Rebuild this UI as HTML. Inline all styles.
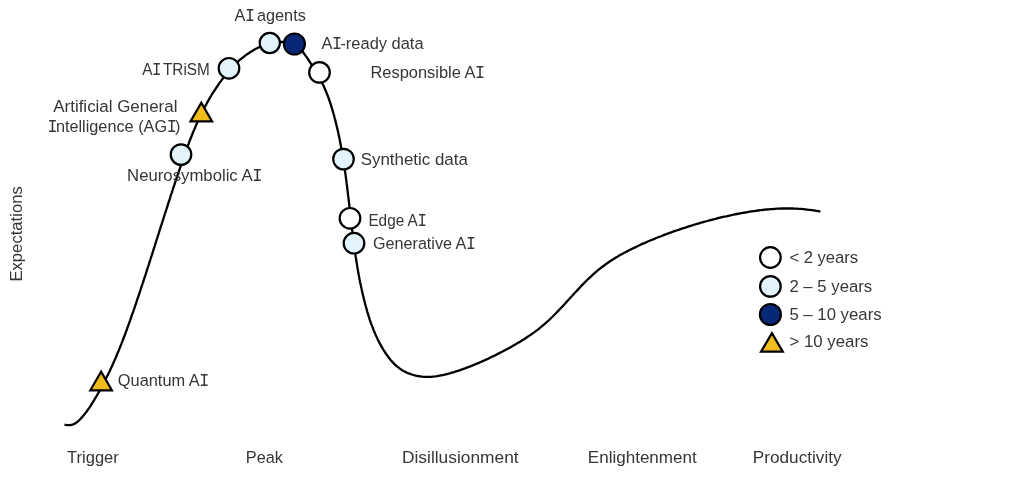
<!DOCTYPE html>
<html><head><meta charset="utf-8">
<style>
html,body{margin:0;padding:0;background:#fff;}
body{width:1024px;height:478px;overflow:hidden;}
svg{display:block;will-change:transform;}
text{font-family:"Liberation Sans",sans-serif;font-size:17.2px;fill:#363636;}
</style></head>
<body>
<svg width="1024" height="478" viewBox="0 0 1024 478">
<path id="curve" fill="none" stroke="#000" stroke-width="2.3" stroke-linejoin="round" d="M64.5,424.6 L66.9,425.1 L69.1,425.2 L71.2,425.0 L73.2,424.4 L75.0,423.5 L76.7,422.3 L78.4,421.0 L79.9,419.5 L81.4,417.9 L82.9,416.3 L84.3,414.6 L85.6,412.9 L86.9,411.2 L88.1,409.4 L89.4,407.6 L90.6,405.8 L91.7,403.9 L92.9,402.1 L94.0,400.3 L95.1,398.4 L96.3,396.5 L97.3,394.7 L98.4,392.8 L99.5,390.9 L100.5,389.0 L101.6,387.1 L102.6,385.2 L103.6,383.3 L104.6,381.4 L105.6,379.5 L106.5,377.6 L107.5,375.6 L108.4,373.7 L109.4,371.7 L110.3,369.8 L111.2,367.8 L112.1,365.9 L113.0,363.9 L113.8,362.0 L114.7,360.0 L115.6,358.0 L116.4,356.0 L117.2,354.0 L118.1,352.1 L118.9,350.1 L119.7,348.1 L120.5,346.1 L121.3,344.1 L122.1,342.1 L122.9,340.0 L123.6,338.0 L124.4,336.0 L125.2,334.0 L125.9,332.0 L126.7,330.0 L127.4,327.9 L128.1,325.9 L128.9,323.9 L129.6,321.8 L130.3,319.8 L131.0,317.8 L131.7,315.7 L132.4,313.7 L133.2,311.7 L133.9,309.6 L134.6,307.6 L135.3,305.5 L136.0,303.5 L136.6,301.5 L137.3,299.4 L138.0,297.4 L138.7,295.3 L139.4,293.3 L140.1,291.2 L140.8,289.2 L141.4,287.1 L142.1,285.1 L142.8,283.0 L143.5,281.0 L144.1,278.9 L144.8,276.9 L145.5,274.8 L146.1,272.8 L146.8,270.7 L147.4,268.7 L148.1,266.6 L148.8,264.6 L149.4,262.5 L150.1,260.5 L150.7,258.4 L151.4,256.4 L152.1,254.3 L152.7,252.3 L153.4,250.2 L154.0,248.1 L154.7,246.1 L155.3,244.0 L156.0,242.0 L156.6,239.9 L157.3,237.9 L157.9,235.8 L158.6,233.8 L159.2,231.7 L159.9,229.6 L160.5,227.6 L161.2,225.5 L161.9,223.5 L162.5,221.4 L163.2,219.4 L163.8,217.3 L164.5,215.2 L165.1,213.2 L165.8,211.1 L166.5,209.1 L167.1,207.0 L167.8,205.0 L168.4,202.9 L169.1,200.8 L169.8,198.8 L170.4,196.7 L171.1,194.7 L171.8,192.6 L172.4,190.6 L173.1,188.5 L173.8,186.5 L174.5,184.4 L175.1,182.4 L175.8,180.3 L176.5,178.3 L177.2,176.2 L177.9,174.2 L178.6,172.1 L179.3,170.1 L180.0,168.0 L180.7,166.0 L181.4,163.9 L182.1,161.9 L182.8,159.8 L183.5,157.8 L184.2,155.7 L184.9,153.7 L185.7,151.7 L186.4,149.6 L187.1,147.6 L187.9,145.6 L188.7,143.6 L189.4,141.5 L190.2,139.5 L191.0,137.5 L191.8,135.5 L192.6,133.5 L193.4,131.5 L194.3,129.5 L195.1,127.6 L195.9,125.6 L196.8,123.6 L197.7,121.6 L198.6,119.7 L199.5,117.7 L200.4,115.8 L201.3,113.9 L202.3,111.9 L203.3,110.0 L204.2,108.1 L205.2,106.2 L206.3,104.3 L207.3,102.4 L208.3,100.6 L209.4,98.7 L210.5,96.9 L211.6,95.0 L212.7,93.2 L213.9,91.4 L215.1,89.6 L216.2,87.8 L217.5,86.0 L218.7,84.2 L219.9,82.4 L221.2,80.7 L222.5,78.9 L223.9,77.2 L225.2,75.5 L226.6,73.8 L228.0,72.2 L229.4,70.5 L230.9,68.9 L232.3,67.3 L233.8,65.7 L235.4,64.2 L236.9,62.6 L238.5,61.2 L240.1,59.7 L241.8,58.3 L243.5,57.0 L245.2,55.7 L246.9,54.4 L248.7,53.2 L250.5,52.0 L252.3,50.9 L254.1,49.8 L256.0,48.8 L258.0,47.8 L259.9,46.9 L261.9,46.1 L263.9,45.3 L266.0,44.6 L268.1,44.0 L270.2,43.4 L272.4,42.9 L274.5,42.5 L276.7,42.2 L278.9,42.0 L281.1,41.9 L283.3,42.0 L285.5,42.1 L287.6,42.4 L289.7,42.9 L291.7,43.5 L293.6,44.3 L295.4,45.3 L297.1,46.4 L298.7,47.7 L300.2,49.1 L301.7,50.7 L303.1,52.3 L304.4,54.0 L305.7,55.8 L307.0,57.6 L308.2,59.5 L309.4,61.3 L310.6,63.2 L311.8,65.0 L313.0,66.9 L314.1,68.7 L315.3,70.6 L316.4,72.4 L317.5,74.3 L318.5,76.1 L319.6,78.0 L320.6,79.9 L321.6,81.8 L322.5,83.7 L323.5,85.6 L324.3,87.5 L325.2,89.5 L326.0,91.5 L326.8,93.5 L327.6,95.5 L328.4,97.5 L329.1,99.5 L329.8,101.6 L330.5,103.6 L331.1,105.7 L331.8,107.8 L332.4,109.8 L333.0,111.9 L333.6,114.0 L334.2,116.1 L334.7,118.2 L335.3,120.3 L335.8,122.4 L336.3,124.4 L336.8,126.5 L337.3,128.6 L337.8,130.8 L338.3,132.9 L338.7,135.0 L339.2,137.1 L339.6,139.2 L340.0,141.3 L340.4,143.4 L340.8,145.5 L341.2,147.7 L341.6,149.8 L342.0,151.9 L342.4,154.0 L342.7,156.1 L343.1,158.3 L343.4,160.4 L343.7,162.5 L344.1,164.7 L344.4,166.8 L344.7,168.9 L345.0,171.1 L345.3,173.2 L345.6,175.3 L345.9,177.5 L346.2,179.6 L346.5,181.8 L346.7,183.9 L347.0,186.0 L347.3,188.2 L347.5,190.3 L347.8,192.5 L348.0,194.6 L348.3,196.8 L348.6,198.9 L348.8,201.1 L349.1,203.2 L349.3,205.3 L349.6,207.5 L349.8,209.6 L350.0,211.8 L350.3,213.9 L350.5,216.1 L350.8,218.2 L351.0,220.4 L351.3,222.5 L351.5,224.7 L351.8,226.8 L352.0,228.9 L352.3,231.1 L352.6,233.2 L352.8,235.4 L353.1,237.5 L353.4,239.7 L353.7,241.8 L353.9,243.9 L354.2,246.1 L354.5,248.2 L354.8,250.3 L355.1,252.5 L355.4,254.6 L355.7,256.7 L356.1,258.9 L356.4,261.0 L356.7,263.1 L357.1,265.3 L357.4,267.4 L357.8,269.5 L358.1,271.6 L358.5,273.8 L358.9,275.9 L359.3,278.0 L359.7,280.1 L360.1,282.2 L360.6,284.3 L361.0,286.4 L361.5,288.5 L361.9,290.6 L362.4,292.8 L362.9,294.9 L363.4,296.9 L363.9,299.0 L364.4,301.1 L365.0,303.2 L365.5,305.3 L366.1,307.4 L366.7,309.5 L367.2,311.6 L367.9,313.6 L368.5,315.7 L369.2,317.8 L369.8,319.8 L370.5,321.9 L371.2,323.9 L372.0,325.9 L372.8,327.9 L373.5,329.9 L374.4,331.9 L375.2,333.9 L376.1,335.9 L377.0,337.9 L377.9,339.8 L378.9,341.7 L379.9,343.7 L381.0,345.6 L382.0,347.4 L383.1,349.3 L384.3,351.2 L385.5,353.0 L386.7,354.8 L388.0,356.5 L389.3,358.3 L390.6,359.9 L392.1,361.6 L393.5,363.1 L395.0,364.6 L396.6,366.1 L398.3,367.4 L400.0,368.7 L401.7,369.9 L403.6,371.0 L405.5,372.0 L407.4,372.9 L409.4,373.7 L411.4,374.4 L413.5,375.0 L415.6,375.6 L417.8,376.0 L419.9,376.3 L422.1,376.6 L424.3,376.8 L426.4,376.9 L428.6,376.9 L430.8,376.8 L432.9,376.6 L435.1,376.4 L437.2,376.1 L439.3,375.7 L441.4,375.3 L443.6,374.9 L445.7,374.4 L447.7,373.8 L449.8,373.3 L451.9,372.7 L454.0,372.1 L456.0,371.4 L458.1,370.8 L460.1,370.1 L462.2,369.4 L464.2,368.7 L466.2,367.9 L468.2,367.2 L470.2,366.4 L472.2,365.6 L474.2,364.8 L476.2,363.9 L478.2,363.1 L480.2,362.2 L482.2,361.4 L484.1,360.5 L486.1,359.6 L488.1,358.7 L490.0,357.7 L491.9,356.8 L493.9,355.9 L495.8,354.9 L497.8,353.9 L499.7,352.9 L501.6,352.0 L503.5,351.0 L505.4,349.9 L507.3,348.9 L509.2,347.9 L511.1,346.9 L513.0,345.8 L514.9,344.7 L516.8,343.6 L518.6,342.5 L520.5,341.4 L522.3,340.3 L524.1,339.2 L525.9,338.0 L527.7,336.8 L529.5,335.6 L531.3,334.4 L533.0,333.1 L534.8,331.9 L536.5,330.6 L538.2,329.3 L539.9,328.0 L541.5,326.6 L543.2,325.2 L544.8,323.8 L546.4,322.4 L548.0,321.0 L549.6,319.5 L551.1,318.0 L552.7,316.5 L554.2,315.0 L555.7,313.5 L557.2,311.9 L558.7,310.4 L560.2,308.8 L561.7,307.2 L563.2,305.6 L564.7,304.0 L566.1,302.4 L567.6,300.8 L569.1,299.2 L570.5,297.6 L572.0,296.0 L573.4,294.4 L574.9,292.8 L576.4,291.2 L577.9,289.6 L579.3,288.1 L580.8,286.5 L582.3,284.9 L583.8,283.4 L585.4,281.8 L586.9,280.3 L588.4,278.8 L590.0,277.3 L591.6,275.9 L593.1,274.4 L594.7,273.0 L596.4,271.6 L598.0,270.2 L599.7,268.8 L601.4,267.5 L603.1,266.2 L604.8,265.0 L606.5,263.7 L608.3,262.5 L610.1,261.3 L611.9,260.1 L613.7,259.0 L615.5,257.8 L617.4,256.7 L619.2,255.6 L621.1,254.6 L623.0,253.5 L624.9,252.5 L626.8,251.5 L628.7,250.5 L630.7,249.5 L632.6,248.5 L634.6,247.6 L636.5,246.7 L638.5,245.7 L640.4,244.8 L642.4,243.9 L644.4,243.1 L646.4,242.2 L648.4,241.3 L650.3,240.5 L652.3,239.7 L654.3,238.9 L656.3,238.0 L658.3,237.2 L660.3,236.5 L662.3,235.7 L664.3,234.9 L666.3,234.1 L668.4,233.4 L670.4,232.7 L672.4,231.9 L674.4,231.2 L676.5,230.5 L678.5,229.8 L680.5,229.1 L682.6,228.4 L684.6,227.8 L686.7,227.1 L688.7,226.4 L690.8,225.8 L692.8,225.2 L694.9,224.5 L697.0,223.9 L699.0,223.3 L701.1,222.7 L703.2,222.1 L705.3,221.5 L707.4,221.0 L709.4,220.4 L711.5,219.8 L713.6,219.3 L715.7,218.8 L717.8,218.2 L719.9,217.7 L722.0,217.2 L724.1,216.7 L726.3,216.3 L728.4,215.8 L730.5,215.3 L732.6,214.9 L734.7,214.4 L736.8,214.0 L739.0,213.6 L741.1,213.2 L743.2,212.8 L745.3,212.5 L747.5,212.1 L749.6,211.7 L751.7,211.4 L753.8,211.1 L756.0,210.8 L758.1,210.5 L760.2,210.2 L762.4,210.0 L764.5,209.7 L766.6,209.5 L768.8,209.3 L770.9,209.1 L773.1,209.0 L775.2,208.8 L777.4,208.7 L779.5,208.6 L781.6,208.5 L783.8,208.5 L785.9,208.5 L788.1,208.5 L790.2,208.5 L792.4,208.5 L794.5,208.6 L796.7,208.7 L798.8,208.8 L801.0,208.9 L803.2,209.1 L805.3,209.3 L807.5,209.6 L809.6,209.8 L811.8,210.1 L813.9,210.4 L816.1,210.8 L818.3,211.2 L820.4,211.6"/>
<!-- markers -->
<g stroke="#000" stroke-width="2.2">
<circle cx="269.8" cy="43" r="10.1" fill="#e2f3fb"/>
<circle cx="294.4" cy="44" r="10.5" fill="#062877"/>
<circle cx="319.5" cy="72.4" r="10.3" fill="#fff"/>
<circle cx="229" cy="68.3" r="10.3" fill="#e2f3fb"/>
<circle cx="181" cy="154.6" r="10.3" fill="#e2f3fb"/>
<circle cx="343.5" cy="159.1" r="10.3" fill="#e2f3fb"/>
<circle cx="350" cy="218.3" r="10.3" fill="#fff"/>
<circle cx="354" cy="243.2" r="10.3" fill="#e2f3fb"/>
<polygon points="201.3,102.7 212.1,121.4 190.5,121.4" fill="#f1bc1c" stroke-linejoin="miter"/>
<polygon points="101.1,371.6 111.9,390.3 90.3,390.3" fill="#f1bc1c"/>
<!-- legend -->
<circle cx="770.4" cy="257.5" r="10.3" fill="#fff"/>
<circle cx="770.4" cy="286.4" r="10.3" fill="#e2f3fb"/>
<circle cx="770.4" cy="314.5" r="10.5" fill="#062877"/>
<polygon points="771.9,333.1 782.8,351.7 761,351.7" fill="#f1bc1c"/>
</g>
<text x="234.6" y="21.3" textLength="71.2" lengthAdjust="spacingAndGlyphs">A<tspan dx="-0.4" style="font-family:'Liberation Mono';font-size:17.6px;letter-spacing:-2.8px">I</tspan> agents</text>
<text x="142.2" y="74.5" textLength="67.6" lengthAdjust="spacingAndGlyphs">A<tspan dx="-0.4" style="font-family:'Liberation Mono';font-size:17.6px;letter-spacing:-2.8px">I</tspan> TRiSM</text>
<text x="321.4" y="48.5" textLength="102.2" lengthAdjust="spacingAndGlyphs">A<tspan dx="-0.4" style="font-family:'Liberation Mono';font-size:17.6px;letter-spacing:-1.8px">I</tspan>-ready data</text>
<text x="370.5" y="77.8" textLength="112.0" lengthAdjust="spacingAndGlyphs">Responsible A<tspan dx="-0.4" style="font-family:'Liberation Mono';font-size:17.6px;letter-spacing:-2.8px">I</tspan></text>
<text x="53.3" y="111.6" textLength="124.1" lengthAdjust="spacingAndGlyphs">Artificial General</text>
<text x="48.0" y="131.9" textLength="132.8" lengthAdjust="spacingAndGlyphs"><tspan dx="-0.4" style="font-family:'Liberation Mono';font-size:17.6px;letter-spacing:-1.8px">I</tspan>ntelligence (AG<tspan dx="-0.4" style="font-family:'Liberation Mono';font-size:17.6px;letter-spacing:-1.8px">I</tspan>)</text>
<text x="127.1" y="181.1" textLength="132.7" lengthAdjust="spacingAndGlyphs">Neurosymbolic A<tspan dx="-0.4" style="font-family:'Liberation Mono';font-size:17.6px;letter-spacing:-2.8px">I</tspan></text>
<text x="360.7" y="165.0" textLength="107.1" lengthAdjust="spacingAndGlyphs">Synthetic data</text>
<text x="368.4" y="225.8" textLength="56.0" lengthAdjust="spacingAndGlyphs">Edge A<tspan dx="-0.4" style="font-family:'Liberation Mono';font-size:17.6px;letter-spacing:-2.8px">I</tspan></text>
<text x="373.0" y="249.2" textLength="100.3" lengthAdjust="spacingAndGlyphs">Generative A<tspan dx="-0.4" style="font-family:'Liberation Mono';font-size:17.6px;letter-spacing:-2.8px">I</tspan></text>
<text x="117.8" y="386.0" textLength="88.9" lengthAdjust="spacingAndGlyphs">Quantum A<tspan dx="-0.4" style="font-family:'Liberation Mono';font-size:17.6px;letter-spacing:-2.8px">I</tspan></text>
<text x="67.0" y="462.5" textLength="51.8" lengthAdjust="spacingAndGlyphs">Trigger</text>
<text x="245.8" y="462.5" textLength="37.1" lengthAdjust="spacingAndGlyphs">Peak</text>
<text x="402.0" y="462.5" textLength="116.6" lengthAdjust="spacingAndGlyphs">Disillusionment</text>
<text x="587.8" y="462.5" textLength="108.9" lengthAdjust="spacingAndGlyphs">Enlightenment</text>
<text x="752.8" y="462.5" textLength="88.8" lengthAdjust="spacingAndGlyphs">Productivity</text>
<text x="789.4" y="263.4" textLength="68.8" lengthAdjust="spacingAndGlyphs">&lt; 2 years</text>
<text x="789.4" y="291.7" textLength="82.8" lengthAdjust="spacingAndGlyphs">2 – 5 years</text>
<text x="789.4" y="320.3" textLength="92.2" lengthAdjust="spacingAndGlyphs">5 – 10 years</text>
<text x="789.4" y="347.4" textLength="79.1" lengthAdjust="spacingAndGlyphs">&gt; 10 years</text>
<text transform="translate(22.2,281.6) rotate(-90)" textLength="95.4" lengthAdjust="spacingAndGlyphs" style="font-size:17.4px">Expectations</text>
</svg>
</body></html>
